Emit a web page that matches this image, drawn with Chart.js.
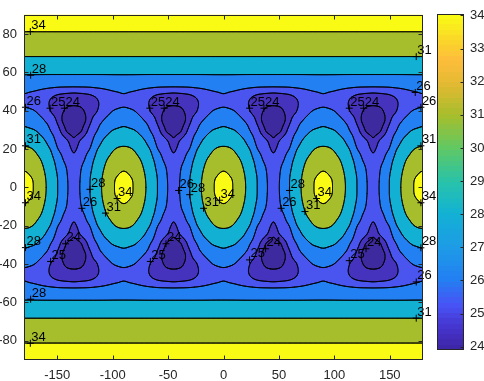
<!DOCTYPE html>
<html><head><meta charset="utf-8">
<script src="https://cdn.jsdelivr.net/npm/chart.js@4.4.1/dist/chart.umd.min.js"></script>
<style>
html,body{margin:0;padding:0;background:#fff;}
#wrap{position:relative;width:484px;height:381px;}
#wrap canvas{position:absolute;left:0;top:0;}
</style></head><body>
<div id="wrap"><canvas id="main" width="484" height="381"></canvas><canvas id="cbar" width="484" height="381"></canvas></div>
<script>
// ---- values ----
// field values on one repeating cell: longitude offset from a peak meridian (0..45, mirrored, period 90)
// and latitude (0..90, mirrored for the south)
const lonCell = [0, 5, 10, 15, 20, 25, 30, 35, 40, 45];
const latCell = [0, 5, 10, 15, 20, 25, 30, 35, 40, 45, 50, 55, 60, 65, 70, 75, 80, 85, 90];
const z00 = [34.6, 34.4, 33.7, 32.3, 31.0, 29.5, 28.1, 26.9, 25.95, 25.6];
const z05 = [34.38, 34.15, 33.6, 32.2, 30.85, 29.4, 28.05, 26.85, 25.9, 25.55];
const z10 = [33.75, 33.5, 32.9, 31.7, 30.4, 29.0, 27.7, 26.6, 25.75, 25.4];
const z15 = [32.6, 32.35, 31.75, 30.9, 29.7, 28.4, 27.2, 26.0, 25.4, 25.15];
const z20 = [31.4, 31.25, 30.7, 29.75, 28.7, 27.65, 26.15, 25.5, 25.25, 24.85];
const z25 = [29.9, 29.7, 29.2, 28.55, 27.7, 26.6, 25.6, 25.3, 24.85, 24.15];
const z30 = [28.45, 28.25, 27.95, 27.35, 26.6, 25.8, 25.35, 24.55, 23.6, 23.45];
const z35 = [27.2, 27.05, 26.7, 26.3, 25.85, 25.45, 24.85, 23.9, 23.4, 23.15];
const z40 = [26.25, 26.15, 25.98, 25.7, 25.35, 24.9, 24.6, 24.1, 23.6, 23.4];
const z45 = [25.75, 25.72, 25.65, 25.5, 25.2, 24.88, 24.72, 24.65, 24.6, 24.58];
const z50 = [26.15, 26.05, 25.95, 25.8, 25.62, 25.45, 25.3, 25.22, 25.18, 25.15];
const z55 = [27.2, 27.18, 27.15, 27.1, 27.06, 27.03, 27.01, 27.0, 27.0, 27.0];
const z60 = [28.3, 28.3, 28.3, 28.3, 28.3, 28.3, 28.3, 28.3, 28.3, 28.3];
const z65 = [29.8, 29.8, 29.8, 29.8, 29.8, 29.8, 29.8, 29.8, 29.8, 29.8];
const z70 = [31.6, 31.6, 31.6, 31.6, 31.6, 31.6, 31.6, 31.6, 31.6, 31.6];
const z75 = [32.7, 32.7, 32.7, 32.7, 32.7, 32.7, 32.7, 32.7, 32.7, 32.7];
const z80 = [33.8, 33.8, 33.8, 33.8, 33.8, 33.8, 33.8, 33.8, 33.8, 33.8];
const z85 = [34.5, 34.5, 34.5, 34.5, 34.5, 34.5, 34.5, 34.5, 34.5, 34.5];
const z90 = [34.8, 34.8, 34.8, 34.8, 34.8, 34.8, 34.8, 34.8, 34.8, 34.8];

const contourLevels = [24, 25, 26, 28, 31, 34];
const xTicks = [-150, -100, -50, 0, 50, 100, 150];
const yTicks = [-80, -60, -40, -20, 0, 20, 40, 60, 80];
const colorbarTicks = [24, 25, 26, 27, 28, 29, 30, 31, 32, 33, 34];
const colorbarRange = [23.9, 34.05];

// contour labels (+ marker position and text)
const labelLon = [-174.3, -174.0, -178.7, -156.5, -143.5, -66.5, -53.5, 23.5, 36.5, 113.5, 126.5,
  -178.7, 173.9, 173.0, 178.1, 178.1,
  -178.7, -120.5, -127.8, -106.5, -96.0, -40.5, -30.5, -18.0, -3.5, 59.5, 52.0, 73.5, 84.0, 178.1,
  -178.7, -142.5, -156.0, -51.9, -66.0, 38.0, 23.5, 128.6, 113.5, 178.1, 173.9, 173.9, -174.0, -174.3];
const labelLat = [81.3, 58.5, 41.8, 41.3, 41.3, 41.3, 41.3, 41.3, 41.3, 41.3, 41.3,
  21.7, 68.2, 49.5, 41.8, 21.7,
  -8.0, -1.0, -10.9, -13.4, -5.8, -1.6, -3.8, -10.9, -6.7, -1.6, -10.9, -12.6, -5.8, -8.0,
  -31.4, -29.4, -38.6, -29.4, -38.6, -32.0, -37.8, -32.0, -38.2, -31.5, -49.3, -68.2, -58.3, -81.3];
const labelText = ['34', '28', '26', '25', '24', '25', '24', '25', '24', '25', '24',
  '31', '31', '26', '26', '31',
  '34', '28', '26', '31', '34', '26', '28', '31', '34', '28', '26', '31', '34', '34',
  '28', '24', '25', '24', '25', '24', '25', '24', '25', '28', '26', '31', '28', '34'];

// ---- styles ----
const FONT = "'Liberation Sans', Arial, Helvetica, sans-serif";
const AXIS_COLOR = '#262626';
const bandColors = ['#3e2a9f', '#4533bd', '#4a54ef', '#2280f2', '#12b1d4', '#a6be2c', '#f9fb14'];
const parulaStops = [
  [0.00, 62, 38, 168], [0.06, 69, 52, 205], [0.125, 72, 82, 244], [0.207, 34, 128, 242],
  [0.30, 30, 155, 230], [0.404, 18, 177, 212], [0.50, 40, 195, 170], [0.60, 95, 200, 100],
  [0.70, 166, 190, 44], [0.80, 230, 185, 50], [0.87, 253, 190, 60], [0.93, 250, 215, 40],
  [1.00, 249, 251, 20]];

// ---- field table built from the row arrays ----
const zRows = [z00, z05, z10, z15, z20, z25, z30, z35, z40, z45, z50, z55, z60, z65, z70, z75, z80, z85, z90];
const dLon = lonCell[1] - lonCell[0];
const dLat = latCell[1] - latCell[0];
const nCol = lonCell.length - 1;
const nRow = latCell.length - 1;
function cellZ(iLat, iLon) {
  let r = Math.abs(iLat);
  if (r > nRow) r = 2 * nRow - r;
  const per = 2 * nCol;
  let m = ((iLon % per) + per) % per;
  if (m > nCol) m = per - m;
  return zRows[r][m];
}
function cr(p0, p1, p2, p3, t) {
  return p1 + 0.5 * t * (p2 - p0 + t * (2 * p0 - 5 * p1 + 4 * p2 - p3 + t * (3 * (p1 - p2) + p3 - p0)));
}
function zAt(lon, lat) {
  const u = lon / dLon, v = lat / dLat;
  const i = Math.floor(u), j = Math.floor(v);
  const fu = u - i, fv = v - j;
  const c = [];
  for (let dj = -1; dj <= 2; dj++) {
    c.push(cr(cellZ(j + dj, i - 1), cellZ(j + dj, i), cellZ(j + dj, i + 1), cellZ(j + dj, i + 2), fu));
  }
  return cr(c[0], c[1], c[2], c[3], fv);
}
const STEP = 0.5, NX = 721, NY = 361;
let S = null;
function buildSamples() {
  if (S) return;
  S = new Float32Array(NX * NY);
  for (let j = 0; j < NY; j++) {
    const lat = -90 + j * STEP;
    for (let i = 0; i < NX; i++) S[j * NX + i] = zAt(-180 + i * STEP, lat);
  }
}
function sampleZ(lon, lat) {
  let u = (lon + 180) / STEP, v = (lat + 90) / STEP;
  u = Math.max(0, Math.min(NX - 1.0001, u));
  v = Math.max(0, Math.min(NY - 1.0001, v));
  const i = Math.floor(u), j = Math.floor(v), fu = u - i, fv = v - j;
  const a = S[j * NX + i], b = S[j * NX + i + 1], c = S[(j + 1) * NX + i], d = S[(j + 1) * NX + i + 1];
  return (a * (1 - fu) + b * fu) * (1 - fv) + (c * (1 - fu) + d * fu) * fv;
}
function hexRgb(h) { return [parseInt(h.slice(1, 3), 16), parseInt(h.slice(3, 5), 16), parseInt(h.slice(5, 7), 16)]; }
const bandRgb = bandColors.map(hexRgb);

const contourPlugin = {
  id: 'contourFill',
  beforeDatasetsDraw(chart) {
    buildSamples();
    const { ctx, chartArea: a, scales: { x, y } } = chart;
    const L = Math.floor(a.left), T = Math.floor(a.top);
    const W = Math.ceil(a.right) - L, H = Math.ceil(a.bottom) - T;
    const off = document.createElement('canvas');
    off.width = W; off.height = H;
    const octx = off.getContext('2d');
    const img = octx.createImageData(W, H);
    for (let py = 0; py < H; py++) {
      const lat = y.getValueForPixel(T + py + 0.5);
      for (let px = 0; px < W; px++) {
        const lon = x.getValueForPixel(L + px + 0.5);
        const z = sampleZ(lon, lat);
        let k = 0;
        while (k < contourLevels.length && z >= contourLevels[k]) k++;
        const c = bandRgb[k], o = (py * W + px) * 4;
        img.data[o] = c[0]; img.data[o + 1] = c[1]; img.data[o + 2] = c[2]; img.data[o + 3] = 255;
      }
    }
    octx.putImageData(img, 0, 0);
    ctx.save();
    ctx.beginPath();
    ctx.rect(a.left, a.top, a.right - a.left, a.bottom - a.top);
    ctx.clip();
    ctx.drawImage(off, L, T);
    ctx.strokeStyle = '#000';
    ctx.lineWidth = 0.8;
    ctx.lineCap = 'round';
    const fx = (p) => x.getPixelForValue(-180 + p[0] * STEP);
    const fy = (p) => y.getPixelForValue(-90 + p[1] * STEP);
    for (const lev of contourLevels) {
      ctx.beginPath();
      for (let j = 0; j < NY - 1; j++) {
        for (let i = 0; i < NX - 1; i++) {
          const v0 = S[j * NX + i], v1 = S[j * NX + i + 1], v2 = S[(j + 1) * NX + i + 1], v3 = S[(j + 1) * NX + i];
          const s0 = v0 >= lev, s1 = v1 >= lev, s2 = v2 >= lev, s3 = v3 >= lev;
          if (s0 === s1 && s1 === s2 && s2 === s3) continue;
          const ed = [null, null, null, null];
          if (s0 !== s1) { const t = (lev - v0) / (v1 - v0); ed[0] = [i + t, j]; }
          if (s1 !== s2) { const t = (lev - v1) / (v2 - v1); ed[1] = [i + 1, j + t]; }
          if (s2 !== s3) { const t = (lev - v2) / (v3 - v2); ed[2] = [i + 1 - t, j + 1]; }
          if (s3 !== s0) { const t = (lev - v3) / (v0 - v3); ed[3] = [i, j + 1 - t]; }
          const segs = [];
          const present = ed.map((e, k) => e ? k : -1).filter(k => k >= 0);
          if (present.length === 2) segs.push([ed[present[0]], ed[present[1]]]);
          else if (present.length === 4) {
            const cen = (v0 + v1 + v2 + v3) / 4 >= lev;
            if (cen === s0) { segs.push([ed[0], ed[1]]); segs.push([ed[2], ed[3]]); }
            else { segs.push([ed[3], ed[0]]); segs.push([ed[1], ed[2]]); }
          }
          for (const sg of segs) {
            ctx.moveTo(fx(sg[0]), fy(sg[0]));
            ctx.lineTo(fx(sg[1]), fy(sg[1]));
          }
        }
      }
      ctx.stroke();
    }
    ctx.restore();
  },
  afterDatasetsDraw(chart) {
    const { ctx } = chart;
    const meta = chart.getDatasetMeta(0);
    ctx.save();
    ctx.fillStyle = '#000';
    ctx.font = '13px ' + FONT;
    ctx.textAlign = 'left';
    ctx.textBaseline = 'alphabetic';
    meta.data.forEach((el, i) => { ctx.fillText(labelText[i], el.x + 1, el.y - 2.5); });
    ctx.restore();
  },
  afterDraw(chart) {
    const { ctx, chartArea: a, scales: { x, y } } = chart;
    ctx.save();
    ctx.strokeStyle = AXIS_COLOR;
    ctx.lineWidth = 1;
    const x0 = Math.round(a.left) + 0.5, x1 = Math.round(a.right) - 0.5;
    const y0 = Math.round(a.top) + 0.5, y1 = Math.round(a.bottom) - 0.5;
    ctx.strokeRect(x0, y0, x1 - x0, y1 - y0);
    ctx.beginPath();
    const tl = 4;
    xTicks.forEach(v => {
      const px = Math.round(x.getPixelForValue(v)) + 0.5;
      ctx.moveTo(px, y1); ctx.lineTo(px, y1 - tl);
      ctx.moveTo(px, y0); ctx.lineTo(px, y0 + tl);
    });
    yTicks.forEach(v => {
      const py = Math.round(y.getPixelForValue(v)) + 0.5;
      ctx.moveTo(x0, py); ctx.lineTo(x0 + tl, py);
      ctx.moveTo(x1, py); ctx.lineTo(x1 - tl, py);
    });
    ctx.stroke();
    ctx.restore();
  }
};

Chart.defaults.font.family = FONT;
new Chart(document.getElementById('main'), {
  type: 'scatter',
  data: {
    datasets: [{
      data: labelLon.map((v, i) => ({ x: v, y: labelLat[i] })),
      pointStyle: 'cross', pointRadius: 3.5, pointHoverRadius: 3.5,
      pointBorderColor: '#000', pointBorderWidth: 1, borderColor: '#000', borderWidth: 1,
      backgroundColor: '#000', clip: false
    }]
  },
  options: {
    responsive: false, animation: false, devicePixelRatio: 1, events: [],
    layout: { padding: { left: 0, right: 61, top: 3, bottom: 0 } },
    plugins: { legend: { display: false }, tooltip: { enabled: false } },
    scales: {
      x: {
        type: 'linear', min: -180, max: 180,
        afterBuildTicks: s => { s.ticks = xTicks.map(v => ({ value: v })); },
        afterFit: s => { s.height = 21; },
        grid: { display: false, drawTicks: false }, border: { display: false },
        ticks: { padding: 8, color: AXIS_COLOR, font: { family: FONT, size: 13 }, maxRotation: 0, autoSkip: false }
      },
      y: {
        type: 'linear', min: -90, max: 90,
        afterBuildTicks: s => { s.ticks = yTicks.map(v => ({ value: v })); },
        afterFit: s => { s.width = 24; },
        grid: { display: false, drawTicks: false }, border: { display: false },
        ticks: { padding: 7, color: AXIS_COLOR, font: { family: FONT, size: 13 }, autoSkip: false }
      }
    }
  },
  plugins: [contourPlugin]
});

function parula(t) {
  t = Math.max(0, Math.min(1, t));
  for (let k = 1; k < parulaStops.length; k++) {
    const a = parulaStops[k - 1], b = parulaStops[k];
    if (t <= b[0]) {
      const f = (t - a[0]) / (b[0] - a[0]);
      return 'rgb(' + [1, 2, 3].map(n => Math.round(a[n] + (b[n] - a[n]) * f)).join(',') + ')';
    }
  }
  const l = parulaStops[parulaStops.length - 1];
  return 'rgb(' + l[1] + ',' + l[2] + ',' + l[3] + ')';
}

const colorbarPlugin = {
  id: 'colorbar',
  afterDraw(chart) {
    const { ctx, chartArea: a, scales: { y } } = chart;
    ctx.save();
    const top = Math.round(a.top), bot = Math.round(a.bottom);
    const lo = colorbarRange[0], hi = colorbarRange[1];
    for (let py = top; py < bot; py++) {
      const v = y.getValueForPixel(py + 0.5);
      const k = Math.min(63, Math.max(0, Math.floor((v - lo) / (hi - lo) * 64)));
      ctx.fillStyle = parula(k / 63);
      ctx.fillRect(a.left, py, a.right - a.left, 1);
    }
    ctx.strokeStyle = AXIS_COLOR;
    ctx.lineWidth = 1;
    const x0 = Math.round(a.left) + 0.5, x1 = Math.round(a.right) - 0.5;
    ctx.strokeRect(x0, top + 0.5, x1 - x0, bot - top - 1);
    ctx.beginPath();
    colorbarTicks.forEach(v => {
      const py = Math.round(y.getPixelForValue(v)) + 0.5;
      ctx.moveTo(x1, py); ctx.lineTo(x1 - 3, py);
    });
    ctx.stroke();
    ctx.restore();
  }
};

new Chart(document.getElementById('cbar'), {
  type: 'scatter',
  data: { datasets: [] },
  options: {
    responsive: false, animation: false, devicePixelRatio: 1, events: [],
    layout: { padding: { left: 437, right: 0, top: 3, bottom: 31 } },
    plugins: { legend: { display: false }, tooltip: { enabled: false } },
    scales: {
      x: { display: false, min: 0, max: 1 },
      y: {
        position: 'right', min: colorbarRange[0], max: colorbarRange[1],
        afterBuildTicks: s => { s.ticks = colorbarTicks.map(v => ({ value: v })); },
        afterFit: s => { s.width = 20; },
        grid: { display: false, drawTicks: false }, border: { display: false },
        ticks: { padding: 6, color: AXIS_COLOR, font: { family: FONT, size: 13 }, autoSkip: false }
      }
    }
  },
  plugins: [colorbarPlugin]
});
</script>
</body></html>
